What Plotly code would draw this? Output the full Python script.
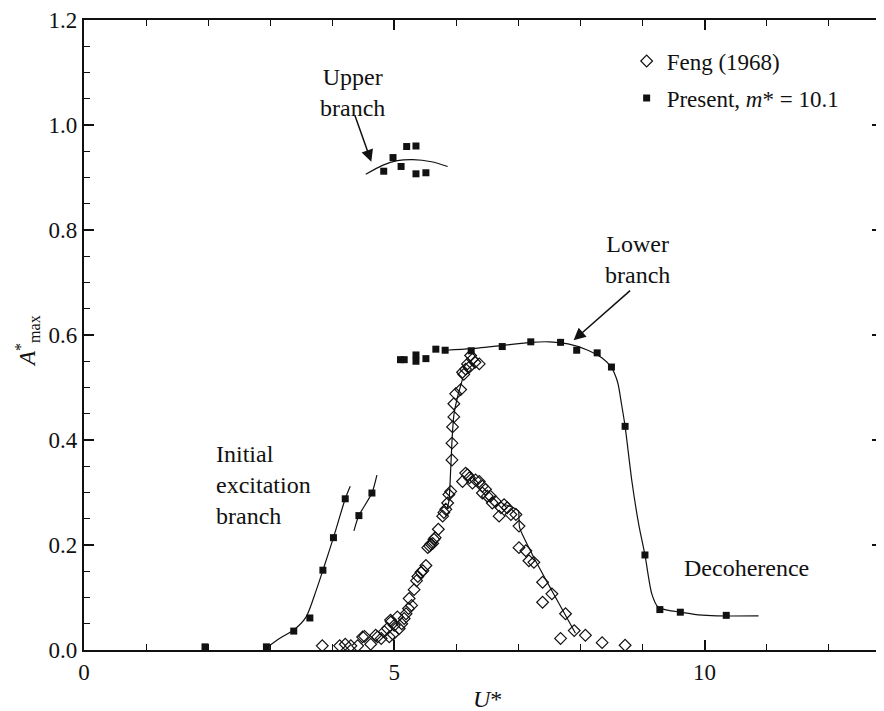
import plotly.graph_objects as go

# ---------------- data ----------------
feng_x = [3.84, 4.12, 4.21, 4.30, 4.41, 4.49, 4.52, 4.62, 4.70, 4.73, 4.79, 4.84, 4.89,
          4.92, 4.94, 4.95, 4.98, 5.00, 5.05, 5.08, 5.12, 5.16, 5.19, 5.23, 5.24, 5.28,
          5.32, 5.36, 5.38, 5.43, 5.46, 5.51, 5.54, 5.57, 5.59, 5.62, 5.64, 5.66, 5.71,
          5.78, 5.80, 5.83, 5.86, 5.88, 5.91,
          5.93, 5.93, 5.94, 5.96, 5.96, 5.99, 6.07, 6.10, 6.12, 6.15, 6.18, 6.21, 6.23,
          6.26, 6.30, 6.37,
          6.10, 6.15, 6.18, 6.21, 6.26, 6.31, 6.37, 6.42, 6.42, 6.47, 6.50, 6.55, 6.58,
          6.63, 6.69, 6.72, 6.77, 6.82, 6.88, 6.96, 7.01, 7.01, 7.12, 7.17, 7.25, 7.39,
          7.39, 7.54, 7.68, 7.76, 7.90, 8.08, 8.35, 8.72]
feng_y = [0.008, 0.008, 0.011, 0.008, 0.008, 0.025, 0.026, 0.011, 0.028, 0.025, 0.022, 0.035, 0.041,
          0.025, 0.057, 0.054, 0.030, 0.047, 0.063, 0.041, 0.050, 0.060, 0.069, 0.079, 0.098, 0.085,
          0.115, 0.132, 0.140, 0.148, 0.151, 0.161, 0.195, 0.198, 0.202, 0.203, 0.211, 0.214, 0.230,
          0.255, 0.262, 0.268, 0.280, 0.296, 0.302,
          0.362, 0.394, 0.425, 0.444, 0.469, 0.488, 0.496, 0.529, 0.525, 0.535, 0.545, 0.539, 0.561,
          0.554, 0.548, 0.545,
          0.321, 0.337, 0.334, 0.328, 0.318, 0.324, 0.321, 0.312, 0.299, 0.306, 0.293, 0.293, 0.280,
          0.283, 0.255, 0.271, 0.277, 0.271, 0.258, 0.258, 0.236, 0.195, 0.189, 0.170, 0.167, 0.129,
          0.091, 0.107, 0.022, 0.069, 0.037, 0.028, 0.014, 0.009]

present_x = [1.95, 2.94, 3.38, 3.64, 3.85, 4.02, 4.21, 4.43, 4.64,
             4.83, 4.98, 5.11, 5.20, 5.35, 5.35, 5.51,
             5.10, 5.16, 5.35, 5.35, 5.51, 5.67, 5.82, 6.24, 6.74, 7.20, 7.68, 7.94,
             8.27, 8.50, 8.72, 9.04, 9.28, 9.61, 10.35]
present_y = [0.006, 0.006, 0.036, 0.061, 0.152, 0.214, 0.288, 0.256, 0.299,
             0.912, 0.938, 0.921, 0.959, 0.960, 0.907, 0.909,
             0.553, 0.553, 0.550, 0.562, 0.555, 0.573, 0.571, 0.570, 0.578, 0.587, 0.586, 0.571,
             0.566, 0.539, 0.426, 0.181, 0.077, 0.072, 0.066]

# fitted curves
init1_x = [2.95, 3.15, 3.38, 3.58, 3.74, 3.85, 4.02, 4.21, 4.29]
init1_y = [0.005, 0.022, 0.038, 0.063, 0.113, 0.152, 0.214, 0.288, 0.312]
init2_x = [4.35, 4.43, 4.64, 4.72]
init2_y = [0.227, 0.256, 0.299, 0.333]
upper_x = [4.54, 4.81, 5.05, 5.30, 5.60, 5.86]
upper_y = [0.906, 0.923, 0.932, 0.934, 0.930, 0.921]
lower_x = [5.82, 6.24, 6.74, 7.20, 7.50, 7.80, 8.10, 8.35, 8.50, 8.60, 8.66, 8.72, 8.83,
           8.94, 9.04, 9.15, 9.25, 9.40, 9.61, 9.90, 10.20, 10.87]
lower_y = [0.571, 0.574, 0.580, 0.586, 0.587, 0.583, 0.572, 0.556, 0.538, 0.510, 0.470, 0.426, 0.321,
           0.239, 0.181, 0.107, 0.082, 0.076, 0.072, 0.067, 0.065, 0.065]
feng_rise_x = [5.85, 5.88, 5.91, 5.93, 5.96, 6.02, 6.10]
feng_rise_y = [0.270, 0.283, 0.346, 0.397, 0.447, 0.482, 0.516]
feng_fall_x = [6.75, 6.90, 7.00, 7.01, 7.02, 7.22, 7.54, 7.92]
feng_fall_y = [0.278, 0.272, 0.265, 0.250, 0.233, 0.183, 0.113, 0.032]

x_ticks = [0, 5, 10]
y_ticks = [0.0, 0.2, 0.4, 0.6, 0.8, 1.0, 1.2]
y_tick_text = ["0.0", "0.2", "0.4", "0.6", "0.8", "1.0", "1.2"]

FONT = "Liberation Serif"
INK = "#111111"

fig = go.Figure()

for cx, cy in [(init1_x, init1_y), (init2_x, init2_y), (upper_x, upper_y),
               (lower_x, lower_y), (feng_rise_x, feng_rise_y), (feng_fall_x, feng_fall_y)]:
    fig.add_trace(go.Scatter(x=cx, y=cy, mode="lines",
                             line=dict(color=INK, width=1.2, shape="spline", smoothing=0.7),
                             showlegend=False, hoverinfo="skip"))

fig.add_trace(go.Scatter(x=feng_x, y=feng_y, mode="markers", name="Feng (1968)",
                         legendgroup="a",
                         marker=dict(symbol="diamond-open", size=9, color=INK,
                                     line=dict(width=1.2, color=INK))))
fig.add_trace(go.Scatter(x=present_x, y=present_y, mode="markers",
                         name="Present, <i>m</i>* = 10.1", legendgroup="b",
                         marker=dict(symbol="square", size=7, color=INK)))

axis_common = dict(showline=True, linewidth=2.2, linecolor=INK, mirror="ticks",
                   ticks="inside", ticklen=10, tickwidth=1.5, tickcolor=INK,
                   showgrid=False, zeroline=False, ticklabeloverflow="allow",
                   tickfont=dict(family=FONT, size=23, color=INK))

fig.update_xaxes(range=[0, 12.86], tickvals=x_ticks, ticktext=[str(v) for v in x_ticks],
                 minor=dict(dtick=1, tick0=0, ticks="inside", ticklen=6, tickwidth=1.2,
                            tickcolor=INK, showgrid=False),
                 **axis_common)
fig.update_yaxes(range=[0, 1.2], tickvals=y_ticks, ticktext=y_tick_text,
                 minor=dict(dtick=0.05, tick0=0, ticks="inside", ticklen=6, tickwidth=1.2,
                            tickcolor=INK, showgrid=False),
                 **axis_common)

txt = dict(family=FONT, size=24, color=INK)
annotations = [
    dict(text="<i>U</i>*", xref="paper", yref="paper", x=0.506, y=-0.077,
         showarrow=False, font=txt, xanchor="center", yanchor="middle"),
    dict(text="<i>A</i><sup>*</sup><sub>max</sub>", xref="paper", yref="paper",
         x=-0.071, y=0.491, textangle=-90, showarrow=False,
         font=dict(family=FONT, size=23, color=INK),
         xanchor="center", yanchor="middle"),
    dict(text="Upper<br>branch", x=4.32, y=1.062, showarrow=False, font=txt,
         xanchor="center", yanchor="middle", align="center"),
    dict(text="", x=4.63, y=0.930, ax=-17, ay=-48, showarrow=True, arrowhead=2,
         arrowsize=1.6, arrowwidth=1.5, arrowcolor=INK),
    dict(text="Lower<br>branch", x=8.92, y=0.743, showarrow=False, font=txt,
         xanchor="center", yanchor="middle", align="center"),
    dict(text="", x=7.89, y=0.590, ax=58, ay=-51, showarrow=True, arrowhead=2,
         arrowsize=1.6, arrowwidth=1.5, arrowcolor=INK),
    dict(text="Initial<br>excitation<br>branch", x=2.09, y=0.314, showarrow=False,
         font=txt, xanchor="left", yanchor="middle", align="left"),
    dict(text="Decoherence", x=9.64, y=0.157, showarrow=False, font=txt,
         xanchor="left", yanchor="middle"),
]

fig.update_layout(
    width=876, height=703,
    margin=dict(l=76, r=0, t=7, b=61),
    paper_bgcolor="white", plot_bgcolor="white",
    font=dict(family=FONT, size=23, color=INK),
    annotations=annotations,
    legend=dict(x=0.68, y=0.969, xanchor="left", yanchor="top",
                bgcolor="rgba(0,0,0,0)", borderwidth=0,
                font=dict(family=FONT, size=23, color=INK),
                tracegroupgap=4, itemwidth=30),
    showlegend=True,
)

fig.write_html("out.html")
